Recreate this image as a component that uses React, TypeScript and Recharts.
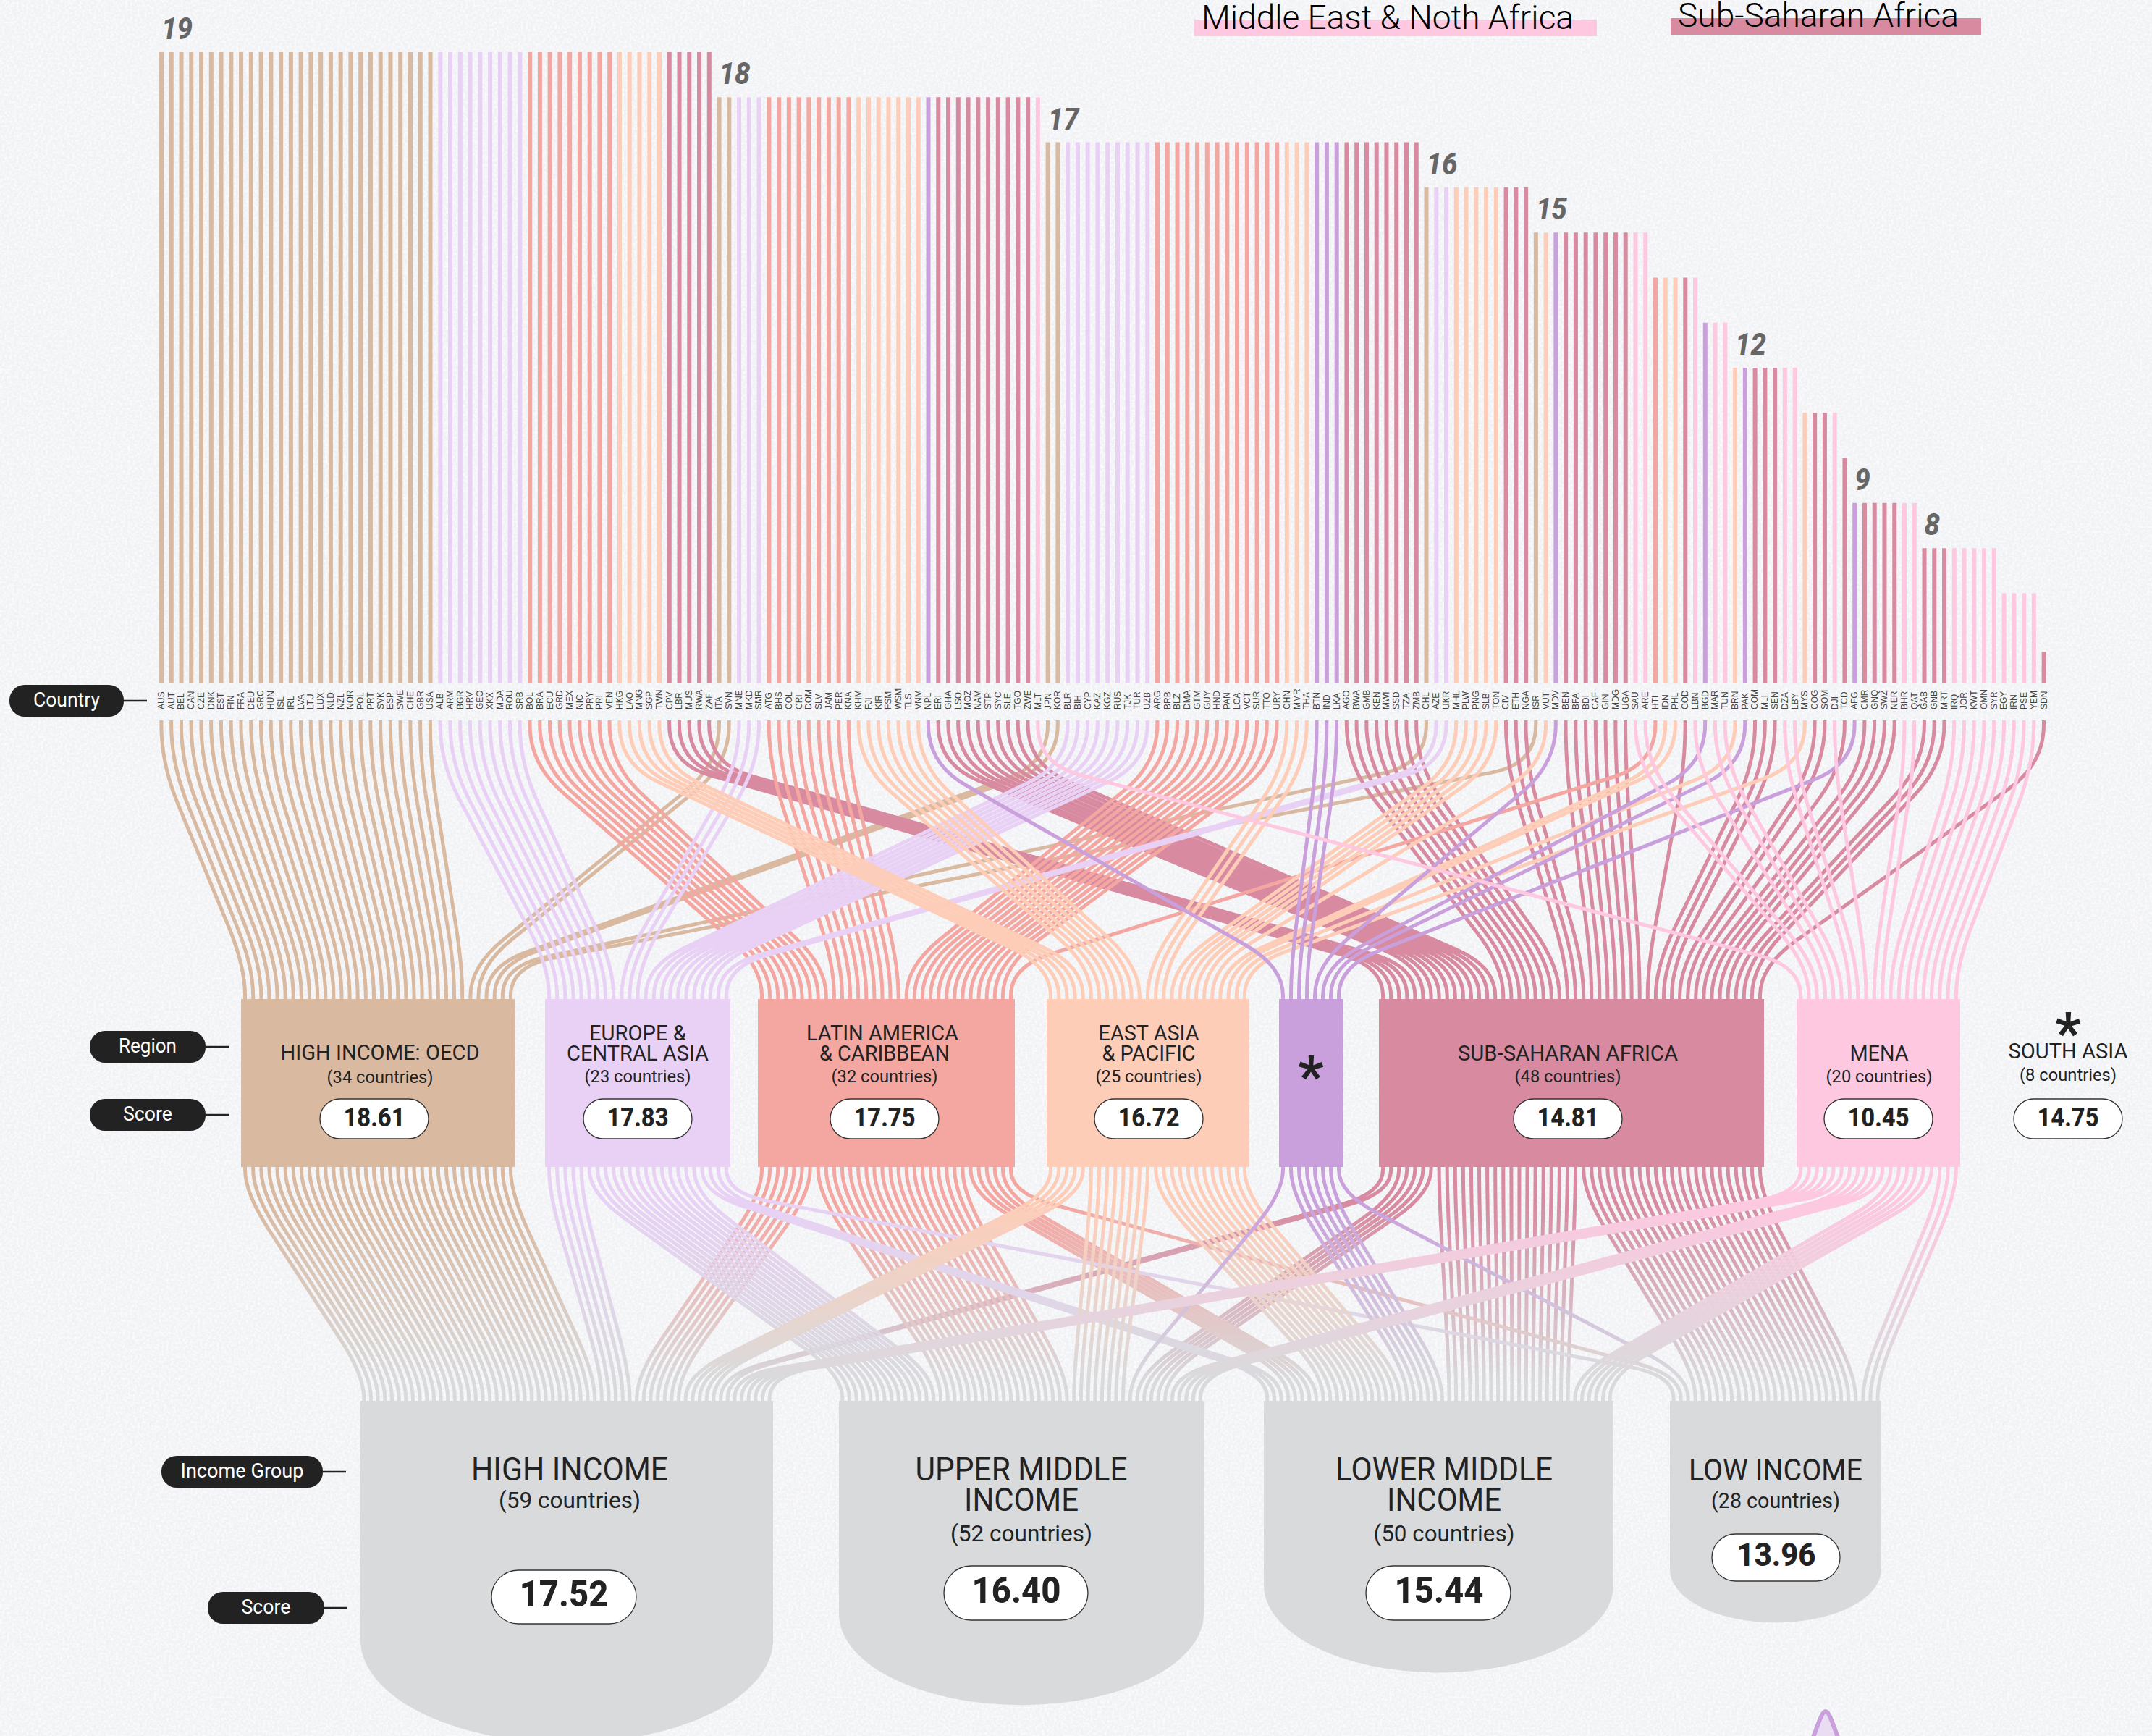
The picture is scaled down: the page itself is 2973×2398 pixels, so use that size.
import { Area, AreaChart, Bar, BarChart, Cell, LabelList, Line, LineChart, ReferenceArea, XAxis, YAxis } from 'recharts';

const WIDTH = 2973;
const HEIGHT = 2398;

// data
const countries = [
  'AUS','AUT','BEL','CAN','CZE','DNK','EST','FIN','FRA','DEU','GRC','HUN','ISL','IRL','LVA','LTU','LUX','NLD','NZL','NOR','POL','PRT','SVK','ESP','SWE','CHE','GBR','USA',
  'ALB','ARM','BGR','HRV','GEO','XKX','MDA','ROU','SRB','BOL','BRA','ECU','GRD','MEX','NIC','PRY','PRI','VEN','HKG','LAO','MNG','SGP','TWN','CPV','LBR','MUS','RWA','ZAF',
  'ITA','SVN','MNE','MKD','SMR','ATG','BHS','COL','CRI','DOM','SLV','JAM','PER','KNA','KHM','FJI','KIR','FSM','WSM','TLS','VNM','NPL','ERI','GHA','LSO','MOZ','NAM','STP','SYC','SLE','TGO','ZWE','MLT',
  'JPN','KOR','BLR','BIH','CYP','KAZ','KGZ','RUS','TJK','TUR','UZB','ARG','BRB','BLZ','DMA','GTM','GUY','HND','PAN','LCA','VCT','SUR','TTO','URY','CHN','MMR','THA','BTN','IND','LKA','AGO','BWA','GMB','KEN','MWI','SSD','TZA','ZMB',
  'CHL','AZE','UKR','MHL','PLW','PNG','SLB','TON','CIV','ETH','NGA',
  'ISR','VUT','MDV','BEN','BFA','BDI','CAF','GIN','MDG','UGA','SAU','ARE',
  'HTI','IDN','PHL','COD','LBN','BGD','MAR','TUN','BRN','PAK','COM','MLI','SEN','DZA','LBY','MYS','COG','SOM','DJI','TCD',
  'AFG','CMR','GNQ','SWZ','NER','BHR','QAT','GAB','GNB','MRT','IRQ','JOR','KWT','OMN','SYR','EGY','IRN','PSE','YEM','SDN',
];

const scores = [
  19,19,19,19,19,19,19,19,19,19,19,19,19,19,19,19,19,19,19,19,19,19,19,19,19,19,19,19,
  19,19,19,19,19,19,19,19,19,19,19,19,19,19,19,19,19,19,19,19,19,19,19,19,19,19,19,19,
  18,18,18,18,18,18,18,18,18,18,18,18,18,18,18,18,18,18,18,18,18,18,18,18,18,18,18,18,18,18,18,18,18,
  17,17,17,17,17,17,17,17,17,17,17,17,17,17,17,17,17,17,17,17,17,17,17,17,17,17,17,17,17,17,17,17,17,17,17,17,17,17,
  16,16,16,16,16,16,16,16,16,16,16,
  15,15,15,15,15,15,15,15,15,15,15,15,
  14,14,14,14,14,13,13,13,12,12,12,12,12,12,12,11,11,11,11,10,
  9,9,9,9,9,9,9,8,8,8,8,8,8,8,8,7,7,7,7,5.7,
];

const labelledScores = [19, 18, 17, 16, 15, 12, 9, 8];

const oecd = ['AUS','AUT','BEL','CAN','CZE','DNK','EST','FIN','FRA','DEU','GRC','HUN','ISL','IRL','LVA','LTU','LUX','NLD','NZL','NOR','POL','PRT','SVK','ESP','SWE','CHE','GBR','USA','ITA','SVN','JPN','KOR','CHL','ISR'];
const eca = ['ALB','ARM','BGR','HRV','GEO','XKX','MDA','ROU','SRB','MNE','MKD','SMR','BLR','BIH','CYP','KAZ','KGZ','RUS','TJK','TUR','UZB','AZE','UKR'];
const lac = ['BOL','BRA','ECU','GRD','MEX','NIC','PRY','PRI','VEN','ATG','BHS','COL','CRI','DOM','SLV','JAM','PER','KNA','ARG','BRB','BLZ','DMA','GTM','GUY','HND','PAN','LCA','VCT','SUR','TTO','URY','HTI'];
const eap = ['HKG','LAO','MNG','SGP','TWN','KHM','FJI','KIR','FSM','WSM','TLS','VNM','CHN','MMR','THA','MHL','PLW','PNG','SLB','TON','VUT','IDN','PHL','BRN','MYS'];
const southAsia = ['NPL','BTN','IND','LKA','MDV','BGD','PAK','AFG'];
const ssa = ['CPV','LBR','MUS','RWA','ZAF','ERI','GHA','LSO','MOZ','NAM','STP','SYC','SLE','TGO','ZWE','AGO','BWA','GMB','KEN','MWI','SSD','TZA','ZMB','CIV','ETH','NGA','BEN','BFA','BDI','CAF','GIN','MDG','UGA','COD','COM','MLI','SEN','COG','SOM','TCD','CMR','GNQ','SWZ','NER','GAB','GNB','MRT','SDN'];
const mena = ['MLT','SAU','ARE','LBN','MAR','TUN','DZA','LBY','DJI','BHR','QAT','IRQ','JOR','KWT','OMN','SYR','EGY','IRN','PSE','YEM'];

const highIncome = [...oecd, 'HRV','ROU','SMR','CYP','RUS', 'PRI','ATG','BHS','KNA','BRB','TTO','URY', 'HKG','SGP','TWN','BRN','PLW', 'SYC','GNQ', 'MLT','SAU','ARE','BHR','QAT','KWT'];
const upperMiddle = ['ALB','ARM','BGR','GEO','XKX','SRB','MNE','MKD','BLR','BIH','KAZ','KGZ','TUR','AZE', 'BRA','ECU','GRD','MEX','PRY','VEN','COL','CRI','DOM','JAM','PER','ARG','BLZ','DMA','GUY','PAN','LCA','VCT','SUR', 'CHN','THA','MYS','FJI','MHL','WSM','TON','KIR', 'MDV', 'MUS','ZAF','NAM','BWA','GAB', 'LBN','LBY','DZA','OMN','IRN'];
const lowerMiddle = ['MDA','UKR','UZB', 'BOL','NIC','SLV','GTM','HND', 'LAO','MNG','KHM','FSM','TLS','VNM','MMR','PNG','SLB','VUT','IDN','PHL', 'NPL','BTN','IND','LKA','BGD','PAK', 'CPV','GHA','LSO','STP','AGO','ZMB','SSD','KEN','CIV','NGA','SEN','COG','SDN','CMR','SWZ','MRT','SOM','ZWE', 'MAR','TUN','DJI','EGY','JOR','PSE'];
const lowIncome = ['TJK','HTI','AFG', 'LBR','RWA','ERI','MOZ','SLE','TGO','GMB','MWI','TZA','ETH','BEN','BFA','BDI','CAF','GIN','MDG','UGA','COD','COM','MLI','TCD','NER','GNB', 'SYR','YEM','IRQ'];

const incomeNames = ['High income', 'Upper middle income', 'Lower middle income', 'Low income'];
const incomeScores = [17.52, 16.4, 15.44, 13.96];
const peakValues = [0, 0.62, 1, 0.62, 0];

// layout and styles
const regionMembers = [oecd, eca, lac, eap, southAsia, ssa, mena];
const regionColors = ['#d9b9a0', '#e8d1f5', '#f4a6a1', '#fecdb8', '#c9a0dc', '#d78aa0', '#fdc8e0'];
const regionLeft = [333, 753, 1047, 1446, 1767, 1905, 2482];
const regionRight = [711, 1009, 1402, 1725, 1855, 2437, 2708];
const incomeMembers = [highIncome, upperMiddle, lowerMiddle, lowIncome];
const incomeLeft = [498, 1159, 1746, 2307];
const incomeRight = [1068, 1663, 2229, 2599];
const drawOrder = [0, 5, 2, 1, 3, 4, 6];
const GREY = '#d9dadc';
const DARK = '#222222';
const PLOT_LEFT = 216;
const PITCH = 13.76;
const SANS = 'Roboto, sans-serif';

const regionIndex = (code: string) => regionMembers.findIndex((list) => list.includes(code));
const incomeIndex = (code: string) => incomeMembers.findIndex((list) => list.includes(code));
const byCountry = (a: string, b: string) => countries.indexOf(a) - countries.indexOf(b);

const barData = countries.map((code, i) => ({
  code,
  score: scores[i],
  region: regionIndex(code),
  groupLabel: i === 0 || scores[i - 1] !== scores[i] ? (labelledScores.includes(scores[i]) ? scores[i] : undefined) : undefined,
}));

const slotX = (left: number, right: number, k: number, n: number) => left + ((k + 0.5) * (right - left)) / n;

const link = (x0: number, x1: number, y0: number, ya: number, yb: number, y1: number) => [
  { x: x0, y: y0 },
  { x: x0, y: ya },
  { x: x1, y: yb },
  { x: x1, y: y1 },
  { x: x1, y: null },
];

// country -> region links, one series per region with gaps between countries
const upperLinks = regionMembers.map((members, r) => {
  const sorted = [...members].sort(byCountry);
  return sorted.flatMap((code, k) => {
    const x0 = PLOT_LEFT + PITCH * (countries.indexOf(code) + 0.5);
    return link(x0, slotX(regionLeft[r], regionRight[r], k, sorted.length), 995, 1055, 1335, 1380);
  });
});

// region -> income links
const lowerLinks = regionMembers.map((members, r) => {
  const sorted = [...members].sort((a, b) => incomeIndex(a) - incomeIndex(b) || byCountry(a, b));
  return sorted.flatMap((code, k) => {
    const g = incomeIndex(code);
    const group = [...incomeMembers[g]].sort((a, b) => regionIndex(a) - regionIndex(b) || byCountry(a, b));
    const x0 = slotX(regionLeft[r], regionRight[r], k, sorted.length);
    const x1 = slotX(incomeLeft[g], incomeRight[g], group.indexOf(code), group.length);
    return link(x0, x1, 1612, 1648, 1900, 1935);
  });
});

// straight runs joined by rounded corners
const cornerCurve = (ctx: any) => {
  let pts: number[][] = [];
  return {
    areaStart() {},
    areaEnd() {},
    lineStart() {
      pts = [];
    },
    point(x: number, y: number) {
      pts.push([x, y]);
    },
    lineEnd() {
      const n = pts.length;
      if (n < 2) return;
      ctx.moveTo(pts[0][0], pts[0][1]);
      for (let i = 1; i < n - 1; i++) {
        const [px, py] = pts[i - 1];
        const [cx, cy] = pts[i];
        const [nx, ny] = pts[i + 1];
        const lenA = Math.hypot(cx - px, cy - py) || 1;
        const lenB = Math.hypot(nx - cx, ny - cy) || 1;
        const cutA = Math.min(lenA * (i === 1 ? 0.9 : 0.5), 60);
        const cutB = Math.min(lenB * (i === n - 2 ? 0.9 : 0.5), 60);
        ctx.lineTo(cx - ((cx - px) / lenA) * cutA, cy - ((cy - py) / lenA) * cutA);
        ctx.quadraticCurveTo(cx, cy, cx + ((nx - cx) / lenB) * cutB, cy + ((ny - cy) / lenB) * cutB);
      }
      ctx.lineTo(pts[n - 1][0], pts[n - 1][1]);
    },
  };
};

const CountryTick = ({ x, payload }: any) => (
  <text transform={`translate(${x + 4},980) rotate(-90)`} fontSize={12} fill="#444" fontFamily="Liberation Sans, sans-serif">
    {payload.value}
  </text>
);

const ScoreLabel = ({ x, y, value }: any) => {
  if (value === undefined || value === null) return null;
  const text = String(value);
  return (
    <text x={x + 3} y={y - 18} fontSize={43} fontWeight={800} fontStyle="italic" fill="#666" fontFamily={SANS} textLength={text.length * 21.5} lengthAdjust="spacingAndGlyphs">
      {text}
    </text>
  );
};

const RoundedBottom = ({ x, y, width, height, fill }: any) => {
  const top = Math.min(y, y + height);
  const h = Math.abs(height);
  const rx = width / 2;
  const ry = rx * 0.5;
  return <path d={`M${x},${top}H${x + width}V${top + h - ry}A${rx},${ry} 0 0 1 ${x},${top + h - ry}Z`} fill={fill} />;
};

const T = ({ x, y, size, w, weight = 400, fill = DARK, anchor = 'middle', children }: any) => (
  <text x={x} y={y} fontSize={size} fontWeight={weight} fill={fill} textAnchor={anchor} fontFamily={SANS} textLength={w} lengthAdjust="spacingAndGlyphs">
    {children}
  </text>
);

const Tag = ({ left, right, top, text, w, lineTo }: any) => (
  <g>
    <line x1={right} x2={lineTo} y1={top + 22} y2={top + 22} stroke={DARK} strokeWidth={2.5} />
    <rect x={left} y={top} width={right - left} height={44} rx={21} fill={DARK} />
    <T x={(left + right) / 2} y={top + 30} size={27} w={w} fill="#fff">{text}</T>
  </g>
);

const Pill = ({ x, y, w, h, cx, text, size, tw, base }: any) => (
  <g>
    <rect x={x} y={y} width={w} height={h} rx={h / 2} fill="#fff" stroke="#333" strokeWidth={1.3} />
    <T x={cx} y={base} size={size} w={tw} weight={800}>{text}</T>
  </g>
);

const RegionPill = ({ cx, text }: any) => (
  <Pill x={cx - 75} y={1518} w={150} h={55} cx={cx} text={text} size={36} tw={85} base={1556} />
);

const App = () => (
  <div style={{ position: 'absolute', left: 0, top: 0, width: WIDTH, height: HEIGHT, overflow: 'hidden', background: '#f0f2f5' }}>
    <svg width={WIDTH} height={HEIGHT} style={{ position: 'absolute', left: 0, top: 0 }}>
      <filter id="paper">
        <feTurbulence type="fractalNoise" baseFrequency="0.3" numOctaves={2} seed={4} />
        <feColorMatrix values="0 0 0 0 0.99  0 0 0 0 0.98  0 0 0 0 0.99  0 0 0 3 -1.1" />
      </filter>
      <rect width={WIDTH} height={HEIGHT} filter="url(#paper)" opacity={0.75} />
    </svg>

    {/* country -> region -> income links and the region blocks */}
    <div style={{ position: 'absolute', left: 0, top: 0 }}>
      <LineChart width={WIDTH} height={HEIGHT} margin={{ top: 0, right: 0, bottom: 0, left: 0 }}>
        <defs>
          {regionColors.map((color, r) => (
            <linearGradient key={color} id={`fade-${r}`} gradientUnits="userSpaceOnUse" x1={0} y1={1612} x2={0} y2={1935}>
              <stop offset="0%" stopColor={color} />
              <stop offset="15%" stopColor={color} />
              <stop offset="92%" stopColor={GREY} />
            </linearGradient>
          ))}
        </defs>
        <XAxis type="number" dataKey="x" domain={[0, WIDTH]} hide />
        <YAxis type="number" domain={[0, HEIGHT]} reversed hide />
        {drawOrder.map((r) => (
          <Line key={`up-${r}`} data={upperLinks[r]} dataKey="y" type={cornerCurve as any} stroke={regionColors[r]} strokeWidth={5} dot={false} activeDot={false} isAnimationActive={false} />
        ))}
        {drawOrder.map((r) => (
          <Line key={`low-${r}`} data={lowerLinks[r]} dataKey="y" type={cornerCurve as any} stroke={`url(#fade-${r})`} strokeWidth={5} dot={false} activeDot={false} isAnimationActive={false} />
        ))}
        {regionColors.map((color, r) => (
          <ReferenceArea key={color} x1={regionLeft[r]} x2={regionRight[r]} y1={1380} y2={1612} fill={color} fillOpacity={1} stroke="none" ifOverflow="visible" />
        ))}
      </LineChart>
    </div>

    {/* country scores */}
    <div style={{ position: 'absolute', left: 0, top: 0 }}>
      <BarChart width={WIDTH} height={1000} data={barData} margin={{ top: 72, right: WIDTH - PLOT_LEFT - PITCH * 190, bottom: 16, left: PLOT_LEFT }}>
        <XAxis dataKey="code" interval={0} tick={CountryTick} axisLine={false} tickLine={false} height={40} />
        <YAxis domain={[5, 19]} hide allowDataOverflow />
        <Bar dataKey="score" barSize={6} isAnimationActive={false}>
          {barData.map((d) => (
            <Cell key={d.code} fill={regionColors[d.region]} />
          ))}
          <LabelList dataKey="groupLabel" content={ScoreLabel} />
        </Bar>
      </BarChart>
    </div>

    {/* income groups hang from one line, deeper for a higher score */}
    {incomeNames.map((name, g) => (
      <div key={name} style={{ position: 'absolute', left: incomeLeft[g], top: 1935 }}>
        <BarChart width={incomeRight[g] - incomeLeft[g]} height={480} data={[{ name, score: incomeScores[g] }]} margin={{ top: 0, right: 0, bottom: 0, left: 0 }} barCategoryGap={0}>
          <XAxis dataKey="name" hide />
          <YAxis domain={[7.4, 17.68]} reversed hide allowDataOverflow />
          <Bar dataKey="score" fill={GREY} shape={RoundedBottom} isAnimationActive={false} />
        </BarChart>
      </div>
    ))}

    {/* the next panel starts below the crop, only its peak shows */}
    <div style={{ position: 'absolute', left: 2492, top: 2358 }}>
      <AreaChart width={60} height={50} data={peakValues.map((v, i) => ({ i, v }))} margin={{ top: 6, right: 10, bottom: 0, left: 10 }}>
        <XAxis dataKey="i" type="number" domain={[0, 4]} hide />
        <YAxis domain={[0, 1]} hide />
        <Area dataKey="v" type="natural" stroke="#c9a0dc" strokeWidth={6} fill="#eadcf3" fillOpacity={1} isAnimationActive={false} />
      </AreaChart>
    </div>

    <svg width={WIDTH} height={HEIGHT} style={{ position: 'absolute', left: 0, top: 0 }}>
      <rect x={1650} y={27} width={556} height={23} fill={regionColors[6]} />
      <rect x={2308} y={25} width={429} height={23} fill={regionColors[5]} />
      <T x={1660} y={40} size={46} w={514} weight={300} fill="#000" anchor="start">Middle East &amp; Noth Africa</T>
      <T x={2318} y={37} size={46} w={388} weight={300} fill="#000" anchor="start">Sub-Saharan Africa</T>

      <Tag left={13} right={171} top={946} text="Country" w={92} lineTo={203} />
      <Tag left={124} right={284} top={1424} text="Region" w={80} lineTo={316} />
      <Tag left={124} right={284} top={1518} text="Score" w={68} lineTo={316} />
      <Tag left={223} right={446} top={2011} text="Income Group" w={170} lineTo={478} />
      <Tag left={287} right={448} top={2199} text="Score" w={68} lineTo={480} />

      <T x={525} y={1464} size={30} w={275}>HIGH INCOME: OECD</T>
      <T x={525} y={1496} size={24} w={147}>(34 countries)</T>
      <RegionPill cx={517} text="18.61" />

      <T x={881} y={1437} size={30} w={134}>EUROPE &amp;</T>
      <T x={881} y={1465} size={30} w={196}>CENTRAL ASIA</T>
      <T x={881} y={1495} size={24} w={147}>(23 countries)</T>
      <RegionPill cx={881} text="17.83" />

      <T x={1219} y={1437} size={30} w={210}>LATIN AMERICA</T>
      <T x={1222} y={1465} size={30} w={180}>&amp; CARIBBEAN</T>
      <T x={1222} y={1495} size={24} w={147}>(32 countries)</T>
      <RegionPill cx={1222} text="17.75" />

      <T x={1587} y={1437} size={30} w={139}>EAST ASIA</T>
      <T x={1587} y={1465} size={30} w={129}>&amp; PACIFIC</T>
      <T x={1587} y={1495} size={24} w={147}>(25 countries)</T>
      <RegionPill cx={1587} text="16.72" />

      <T x={1811} y={1514} size={78} weight={700}>*</T>

      <T x={2166} y={1465} size={30} w={304}>SUB-SAHARAN AFRICA</T>
      <T x={2166} y={1495} size={24} w={147}>(48 countries)</T>
      <RegionPill cx={2166} text="14.81" />

      <T x={2596} y={1465} size={30} w={81}>MENA</T>
      <T x={2596} y={1495} size={24} w={147}>(20 countries)</T>
      <RegionPill cx={2595} text="10.45" />

      <T x={2857} y={1454} size={78} weight={700}>*</T>
      <T x={2857} y={1462} size={30} w={165}>SOUTH ASIA</T>
      <T x={2857} y={1493} size={24} w={134}>(8 countries)</T>
      <RegionPill cx={2857} text="14.75" />

      <T x={787} y={2045} size={44} w={272}>HIGH INCOME</T>
      <T x={787} y={2083} size={32} w={196}>(59 countries)</T>
      <Pill x={679} y={2169} w={200} h={74} cx={779} text="17.52" size={50} tw={123} base={2219} />

      <T x={1411} y={2045} size={44} w={293}>UPPER MIDDLE</T>
      <T x={1411} y={2087} size={44} w={158}>INCOME</T>
      <T x={1411} y={2129} size={32} w={196}>(52 countries)</T>
      <Pill x={1304} y={2163} w={199} h={75} cx={1404} text="16.40" size={50} tw={123} base={2214} />

      <T x={1995} y={2045} size={44} w={300}>LOWER MIDDLE</T>
      <T x={1995} y={2087} size={44} w={158}>INCOME</T>
      <T x={1995} y={2129} size={32} w={195}>(50 countries)</T>
      <Pill x={1887} y={2163} w={200} h={75} cx={1988} text="15.44" size={50} tw={123} base={2214} />

      <T x={2453} y={2045} size={42} w={240}>LOW INCOME</T>
      <T x={2453} y={2083} size={30} w={178}>(28 countries)</T>
      <Pill x={2365} y={2119} w={177} h={65} cx={2454} text="13.96" size={44} tw={109} base={2163} />
    </svg>
  </div>
);

export default App;
